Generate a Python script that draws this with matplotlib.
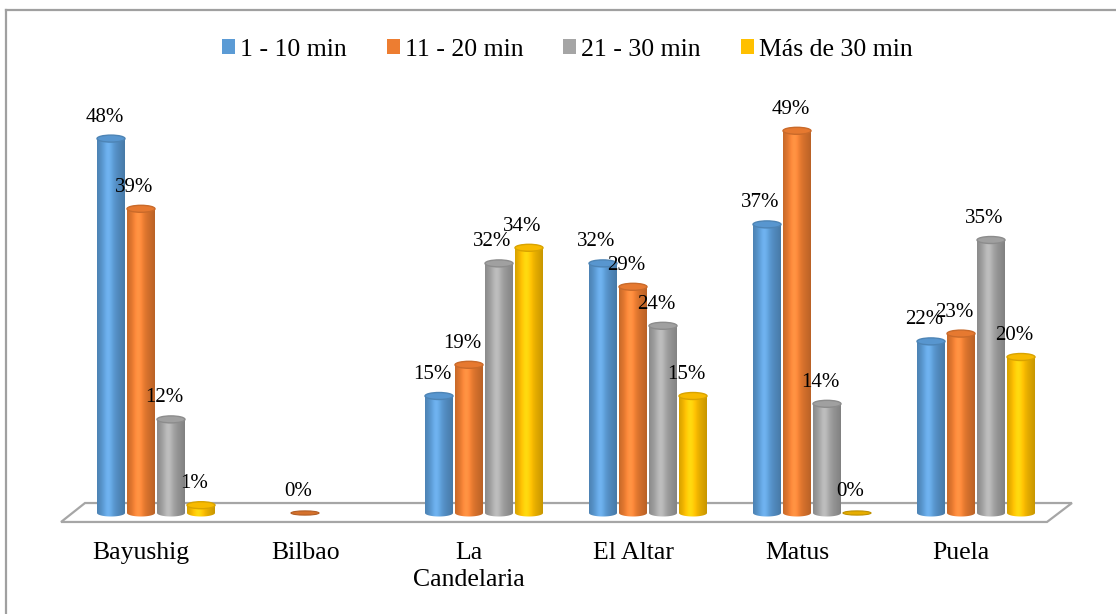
import numpy as np
import matplotlib as mpl
mpl.use("Agg")
import matplotlib.pyplot as plt  # noqa
from matplotlib.patches import Ellipse, Polygon, Patch  # noqa
from matplotlib.lines import Line2D  # noqa
from matplotlib.colors import to_rgb  # noqa

plt.rcParams['font.family'] = ['Liberation Serif', 'DejaVu Serif']

places = ['Bayushig', 'Bilbao', 'La\nCandelaria', 'El Altar', 'Matus', 'Puela']
series = ['1 - 10 min', '11 - 20 min', '21 - 30 min', 'Más de 30 min']
colors = ['#5B9BD5', '#ED7D31', '#A5A5A5', '#FFC000']

t_1_10 = [48, np.nan, 15, 32, 37, 22]
t_11_20 = [39, 0, 19, 29, 49, 23]
t_21_30 = [12, np.nan, 32, 24, 14, 35]
t_30_mas = [1, np.nan, 34, 15, 0, 20]
values = [t_1_10, t_11_20, t_21_30, t_30_mas]

W, H = 1116, 614
fig = plt.figure(figsize=(W / 100, H / 100), dpi=100)
ax = fig.add_axes([0, 0, 1, 1])
ax.axis('off')

# data <-> pixel layout: group pitch 164 px, 7.8 px per percent
x0, pitch = 156, 164
y0, ppu = 513, 7.8
xlim = (-x0 / pitch, (W - x0) / pitch)
ylim = ((y0 - H) / ppu, y0 / ppu)

step = 30 / pitch      # distance between bars in a group
bw = 28 / pitch        # cylinder width
eh = 7 / ppu           # ellipse (cap) height


def shade(color, n=64):
    base = np.array(to_rgb(color))
    t = np.linspace(0, 1, n)
    f = 0.88 + 0.18 * np.exp(-((t - 0.4) / 0.28) ** 2) - 0.10 * (t ** 5) - 0.06 * ((1 - t) ** 6)
    rgb = np.clip(base[None, :] * f[:, None] + 0.06 * np.exp(-((t - 0.4) / 0.15) ** 2)[:, None], 0, 1)
    return rgb[None, :, :]


def cylinder(ax, xc, h, color):
    left, right = xc - bw / 2, xc + bw / 2
    th = np.linspace(np.pi, 2 * np.pi, 30)
    bottom = np.column_stack([xc + bw / 2 * np.cos(th), eh / 2 * np.sin(th)])
    verts = np.vstack([[left, h], bottom, [right, h]])
    body = Polygon(verts, closed=True, facecolor='none', edgecolor='none')
    ax.add_patch(body)
    im = ax.imshow(shade(color), extent=[left, right, -eh / 2, h],
                   aspect='auto', interpolation='bilinear', zorder=3)
    im.set_clip_path(body)
    base = np.array(to_rgb(color))
    cap = Ellipse((xc, h), bw, eh, facecolor=np.clip(base * 0.97, 0, 1),
                  edgecolor=base * 0.85, linewidth=1.0, zorder=4)
    ax.add_patch(cap)


# floor
n = len(places)
floor = Polygon([(-0.579, -1.15), (-0.433, 1.28), (n - 0.415, 1.28), (n - 0.567, -1.15)],
                closed=True, facecolor='white', edgecolor='#A6A6A6', linewidth=1.6, zorder=1)
ax.add_patch(floor)

for j, (vals, col) in enumerate(zip(values, colors)):
    for i, v in enumerate(vals):
        if np.isnan(v):
            continue
        xc = i + (j - 1.5) * step
        if v > 0:
            cylinder(ax, xc, v, col)
        else:
            base = np.array(to_rgb(col))
            ax.add_patch(Ellipse((xc, 0), bw, eh * 0.6, facecolor=base * 0.9,
                                 edgecolor=base * 0.75, linewidth=0.8, zorder=4))
        ax.text(xc - 0.04, v + eh / 2 + 1.1, f'{v:.0f}%', ha='center', va='bottom',
                fontsize=15, color='black', zorder=6)

for i, name in enumerate(places):
    ax.text(i - 0.09, -3.7, name, ha='center', va='top', fontsize=18.5,
            linespacing=1.28, color='black')

ax.set_xlim(*xlim)
ax.set_ylim(*ylim)

handles = [Patch(facecolor=c, edgecolor='none') for c in colors]
fig.legend(handles, series, loc='center', bbox_to_anchor=(0.5085, 0.919), ncol=4,
           frameon=False, fontsize=18.5, handlelength=0.5, handleheight=0.5,
           handletextpad=0.2, columnspacing=1.55)

# chart border (top and left edges)
fig.add_artist(Line2D([6 / W, 1], [1 - 10 / H, 1 - 10 / H], color='#A0A0A0', linewidth=1.6))
fig.add_artist(Line2D([6 / W, 6 / W], [0, 1 - 10 / H], color='#A0A0A0', linewidth=1.6))

fig.savefig('out.png', dpi=100, facecolor='white')
